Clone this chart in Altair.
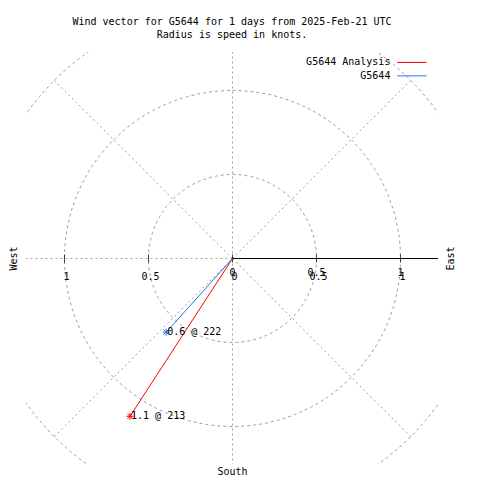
import numpy as np
import pandas as pd
import altair as alt

# ---- data ----
series_names = ["G5644 Analysis", "G5644"]
series_colors = ["#ff0000", "#1f78e6"]
speeds = [1.12, 0.59]          # knots
directions = [213, 222]        # degrees (compass bearing)

grid_radii = [0.5, 1.0, 1.5]
grid_angles = [0, 45, 90, 135, 180, 225, 270, 315]
tick_values = [-1.0, -0.5, 0.0, 0.5, 1.0]
raxis_tick_values = [0.0, 0.5, 1.0]
compass_names = ["West", "East", "South"]
title_lines = ["Wind vector for G5644 for 1 days from 2025-Feb-21 UTC",
               "Radius is speed in knots."]

# ---- styling ----
FONT = "DejaVu Sans Mono"
GRID = "#a0a0a0"
PX = 168.0                 # pixels per knot
R = 206 / PX
H = 0.5 / PX               # half-pixel shift for crisp 1px lines
SIZE = 412

xs = alt.Scale(domain=[-R - H, R - H], nice=False, zero=False)
ys = alt.Scale(domain=[-R + H, R + H], nice=False, zero=False)
color = alt.Color("name:N", scale=alt.Scale(domain=series_names, range=series_colors), legend=None)

# grid circles
rows = []
for r in grid_radii:
    for t in range(0, 361, 2):
        a = np.radians(t)
        rows.append({"r": r, "t": t, "x": r * np.sin(a), "y": r * np.cos(a)})
circ_df = pd.DataFrame(rows)
circles = alt.Chart(circ_df).mark_line(clip=True, color=GRID, strokeWidth=1, strokeDash=[3, 3]).encode(
    x=alt.X("x:Q", scale=xs, axis=None), y=alt.Y("y:Q", scale=ys, axis=None),
    detail="r:N", order="t:Q")

# radial grid lines
rows = []
for ang in grid_angles:
    a = np.radians(ang)
    for i, r in enumerate([0.0, max(grid_radii)]):
        rows.append({"ang": ang, "i": i, "x": r * np.sin(a), "y": r * np.cos(a)})
rad_df = pd.DataFrame(rows)
radials = alt.Chart(rad_df).mark_line(clip=True, color=GRID, strokeWidth=1, strokeDash=[2, 3]).encode(
    x=alt.X("x:Q", scale=xs), y=alt.Y("y:Q", scale=ys), detail="ang:N", order="i:Q")

# black radial axis
ax_df = pd.DataFrame({"x": [0.0, max(grid_radii)], "y": [0.0, 0.0]})
raxis = alt.Chart(ax_df).mark_line(clip=True, color="black", strokeWidth=1).encode(
    x=alt.X("x:Q", scale=xs), y=alt.Y("y:Q", scale=ys))

# ticks
tick_df = pd.DataFrame({"v": tick_values, "y": 0.0,
                        "label": [f"{abs(v):g}" for v in tick_values]})
ticks = alt.Chart(tick_df).mark_tick(orient="vertical", size=8, thickness=1, color="black").encode(
    x=alt.X("v:Q", scale=xs), y=alt.Y("y:Q", scale=ys))
tick_labels_b = alt.Chart(tick_df).mark_text(font=FONT, fontSize=10, align="center",
                                             baseline="alphabetic", dx=2, dy=21, color="black").encode(
    x=alt.X("v:Q", scale=xs), y=alt.Y("y:Q", scale=ys), text="label:N")
rt_df = pd.DataFrame({"v": raxis_tick_values, "y": 0.0,
                      "label": [f"{abs(v):g}" for v in raxis_tick_values]})
tick_labels_a = alt.Chart(rt_df).mark_text(font=FONT, fontSize=10, align="center",
                                           baseline="alphabetic", dy=17, color="black").encode(
    x=alt.X("v:Q", scale=xs), y=alt.Y("y:Q", scale=ys), text="label:N")

# compass labels
cmp_df = pd.DataFrame({"name": compass_names, "x": [-1.298, 1.298, 0.0], "y": [0.0, 0.0, -1.268]})
cmp_side = alt.Chart(cmp_df).transform_filter(alt.datum.name != "South").mark_text(
    font=FONT, fontSize=10, angle=270, align="center", baseline="middle", color="black").encode(
    x=alt.X("x:Q", scale=xs), y=alt.Y("y:Q", scale=ys), text="name:N")
cmp_south = alt.Chart(cmp_df).transform_filter(alt.datum.name == "South").mark_text(
    font=FONT, fontSize=10, align="center", baseline="middle", color="black").encode(
    x=alt.X("x:Q", scale=xs), y=alt.Y("y:Q", scale=ys), text="name:N")

# wind vectors
vec_df = pd.DataFrame({
    "name": series_names,
    "speed": speeds,
    "dir": directions,
})
vec_df["x0"] = 0.0
vec_df["y0"] = 0.0
vec_df["x1"] = vec_df["speed"] * np.sin(np.radians(vec_df["dir"]))
vec_df["y1"] = vec_df["speed"] * np.cos(np.radians(vec_df["dir"]))
vec_df["label"] = [f"{s:.1f} @ {d}" for s, d in zip(speeds, directions)]

vectors = alt.Chart(vec_df).mark_rule(strokeWidth=1).encode(
    x=alt.X("x0:Q", scale=xs), y=alt.Y("y0:Q", scale=ys), x2="x1:Q", y2="y1:Q", color=color)
star = "M-1,0L1,0M0,-1L0,1M-0.75,-0.75L0.75,0.75M-0.75,0.75L0.75,-0.75"
markers = alt.Chart(vec_df).mark_point(shape=star, size=49, filled=False, strokeWidth=1, opacity=1).encode(
    x=alt.X("x1:Q", scale=xs), y=alt.Y("y1:Q", scale=ys), color=color)
vlabels = alt.Chart(vec_df).mark_text(font=FONT, fontSize=10, align="left", baseline="middle",
                                      dx=1, color="black").encode(
    x=alt.X("x1:Q", scale=xs), y=alt.Y("y1:Q", scale=ys), text="label:N")

# legend (label left of line, like gnuplot)
leg_df = pd.DataFrame({"name": series_names,
                       "row": list(range(len(series_names)))})
leg_df["ty"] = 1.167 - 0.08 * leg_df["row"]
leg_df["tx"] = 0.94
leg_df["lx1"] = 0.98
leg_df["lx2"] = 1.155
leg_text = alt.Chart(leg_df).mark_text(font=FONT, fontSize=10, align="right", baseline="middle",
                                       color="black").encode(
    x=alt.X("tx:Q", scale=xs), y=alt.Y("ty:Q", scale=ys), text="name:N")
leg_line = alt.Chart(leg_df).mark_rule(strokeWidth=1).encode(
    x=alt.X("lx1:Q", scale=xs), x2="lx2:Q", y=alt.Y("ty:Q", scale=ys), color=color)

chart = alt.layer(
    circles, radials, raxis, ticks, tick_labels_a, tick_labels_b,
    cmp_side, cmp_south, vectors, markers, vlabels, leg_text, leg_line
).properties(
    width=SIZE, height=SIZE,
    autosize="none",
    padding={"left": 18, "top": 44, "right": 26, "bottom": 20},
    title=alt.TitleParams(text=title_lines, font=FONT, fontSize=10, fontWeight="normal",
                          anchor="middle", offset=12, lineHeight=13, color="black"),
).configure(background="white").configure_view(stroke=None)

chart.save("out.html", embed_options={"renderer": "svg", "actions": False})
